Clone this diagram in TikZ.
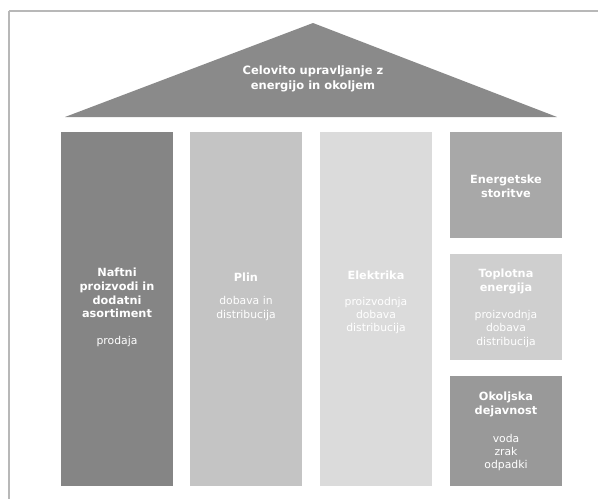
\documentclass[tikz,border=0pt]{standalone}
\usepackage{fontspec}
\setmainfont{DejaVu Sans}
\begin{document}
\begin{tikzpicture}[x=1pt,y=-1pt,
  head/.style={text=white,font=\bfseries\fontsize{11.3}{13.6}\selectfont,align=center,inner sep=0pt},
  roofhead/.style={head,font=\bfseries\fontsize{11.5}{15}\selectfont},
  sub/.style={text=white,font=\fontsize{10.8}{13.2}\selectfont,align=center,inner sep=0pt}]
\useasboundingbox[fill=white] (0,0) rectangle (598,499);
\draw[line width=1.5pt,color=black!28] (9,11) -- (598,11);
\draw[line width=1.5pt,color=black!28] (9,11) -- (9,499);
% roof
\fill[black!46] (65,117) coordinate (bl) -- (313,23) coordinate (apex) -- (557,117) coordinate (br) -- cycle;
\node[roofhead] (roof) at (313,78.5) {Celovito upravljanje z\\energijo in okoljem};
% columns
\fill[black!48] (61,132) rectangle (173,486);
\fill[black!23] (190,132) rectangle (302,486);
\fill[black!14] (320,132) rectangle (432,486);
\fill[black!34] (450,132) rectangle (562,238);
\fill[black!19] (450,254) rectangle (562,360);
\fill[black!40] (450,376) rectangle (562,486);
% texts
\node[head] (c1h) at (117,293) {Naftni\\proizvodi in\\dodatni\\asortiment};
\node[sub] (c1s) at (117,342) {prodaja};
\node[head] (c2h) at (246,277) {Plin};
\node[sub] (c2s) at (246,308.5) {dobava in\\distribucija};
\node[head] (c3h) at (376,275) {Elektrika};
\node[sub] (c3s) at (376,315.5) {proizvodnja\\dobava\\distribucija};
\node[head] (c4h) at (506,186.5) {Energetske\\storitve};
\node[head] (c5h) at (506,281.5) {Toplotna\\energija};
\node[sub] (c5s) at (506,329) {proizvodnja\\dobava\\distribucija};
\node[head] (c6h) at (506,404.5) {Okoljska\\dejavnost};
\node[sub] (c6s) at (506,452.5) {voda\\zrak\\odpadki};
\end{tikzpicture}
\end{document}
